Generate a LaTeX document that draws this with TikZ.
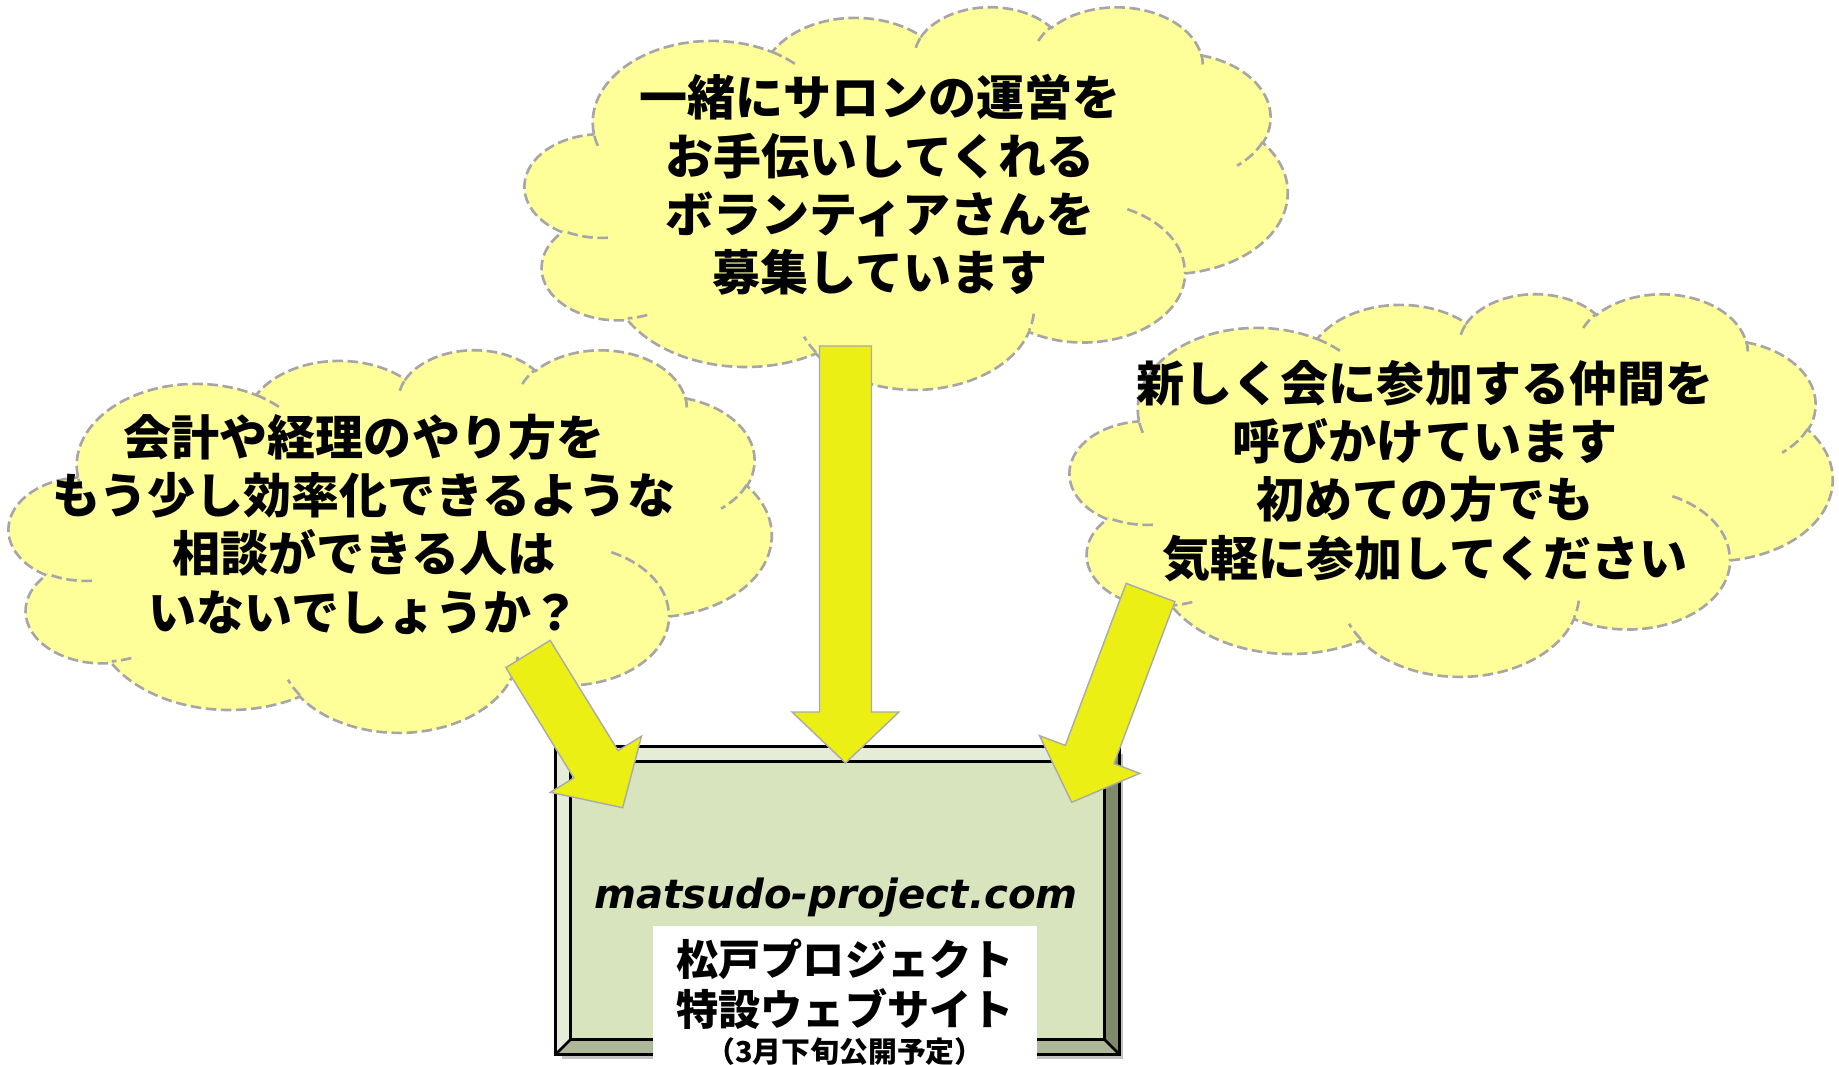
\documentclass[tikz,border=0pt]{standalone}
\usepackage{fontspec}
\setmainfont{Noto Sans CJK JP}
\newfontfamily\urlfont{DejaVu Sans}
\usepackage{tikz}
\usetikzlibrary{calc, positioning, shadows}
\usepackage{xcolor}
\definecolor{CloudYellow}{RGB}{255,255,153}
\definecolor{CloudGray}{RGB}{166,166,166}
\definecolor{ArrowYellow}{RGB}{235,239,20}
\definecolor{ArrowGray}{RGB}{170,170,170}
\definecolor{SiteFace}{RGB}{215,228,189}
\definecolor{SiteLite}{RGB}{229,237,216}
\definecolor{SiteDark}{RGB}{127,138,107}
\definecolor{SiteMid}{RGB}{173,184,152}
\tikzset{%
  cloud_body/.style={%
    fill=CloudYellow,%
    draw=CloudGray,%
    line width=0.75pt,%
    dash pattern=on 3pt off 1.3pt,%
  },
  cloud_line/.style={%
    draw=CloudGray,%
    line width=0.75pt,%
    dash pattern=on 3pt off 1.3pt,%
  },
  cloud_arc/.style n args={4}{%
    insert path={%
      arc[x radius=#1, y radius=#2,
        start angle={atan2(#1*sin(#3),#2*cos(#3))},
        delta angle={mod(atan2(#1*sin(#3+#4),#2*cos(#3+#4))-atan2(#1*sin(#3),#2*cos(#3))+720,360)}]%
    }%
  },
  cloud_text/.style={%
    font={\bfseries\fontsize{13.66pt}{16.59pt}\selectfont},%
    align=center,%
    inner sep=0pt,%
  },
  site_box/.style={%
    rectangle,%
    fill=SiteFace,%
    draw=black,%
    line width=0.75pt,%
    minimum width=5.61cm,%
    minimum height=3.05cm,%
    inner sep=0pt,%
    drop shadow={opacity=0.4, fill=black!60, shadow xshift=0.05cm, shadow yshift=-0.06cm},%
  },
  site_edge/.style={%
    draw=black,%
    line width=0.75pt,%
  },
  url_text/.style={%
    font={\urlfont\bfseries\itshape\fontsize{11.45pt}{13pt}\selectfont},%
  },
  site_panel/.style={%
    rectangle,%
    fill=white,%
    minimum width=3.84cm,%
    minimum height=1.516cm,%
    inner sep=0pt,%
    align=center,%
    font={\bfseries\fontsize{12pt}{14.34pt}\selectfont},%
  },
  block_arrow/.style={%
    fill=ArrowYellow,%
    draw=ArrowGray,%
    line width=0.4pt,%
  },
}

% cloud outline, placed by its top left corner
\newcommand\drawcloud[1]{%
  \begin{scope}[shift={(#1)}, x=0.017639cm, y=-0.0088426cm]
    \path[cloud_body] (39.00,143.70)
      [cloud_arc={67.53}{91.90}{-190.48748}{123.78053}]
      [cloud_arc={53.33}{72.67}{-144.10238}{89.94523}]
      [cloud_arc={43.65}{59.45}{-145.80792}{99.72302}]
      [cloud_arc={48.57}{65.95}{-130.98607}{117.24173}]
      [cloud_arc={53.33}{72.73}{-78.70888}{109.02692}]
      [cloud_arc={67.75}{92.20}{-46.26725}{130.269}]
      [cloud_arc={57.85}{78.67}{0.62502}{114.03333}]
      [cloud_arc={67.52}{92.15}{22.4516}{115.17255}]
      [cloud_arc={77.20}{105.43}{66.24263}{75.71102}]
      [cloud_arc={43.60}{59.18}{-274.94208}{146.73557}]
      [cloud_arc={43.45}{59.45}{-246.8285}{152.51885}]
      -- cycle;
    \path[cloud_line]
      (46.93,261.77) [cloud_arc={43.45}{59.45}{86.742}{26.4295}]
      (69.28,348.99) [cloud_arc={43.60}{59.18}{73.61047}{11.44747}]
      (164.78,390.90) [cloud_arc={67.52}{92.15}{137.62415}{14.0811}]
      (288.27,347.51) [cloud_arc={67.52}{92.15}{6.45327}{15.99835}]
      (341.29,229.54) [cloud_arc={57.85}{78.67}{-70.29235}{70.91737}]
      (417.98,153.54) [cloud_arc={53.33}{72.73}{30.31803}{27.7515}]
      (383.24,54.26) [cloud_arc={48.57}{65.95}{-13.74433}{14.8589}]
      (290.78,39.52) [cloud_arc={48.57}{65.95}{-149.18145}{18.19537}]
      (221.41,47.20) [cloud_arc={43.65}{59.45}{-163.49427}{17.68635}]
      (140.00,51.92) [cloud_arc={67.53}{91.90}{-66.70695}{12.31935}]
      (41.27,157.89) [cloud_arc={67.53}{91.90}{157.65435}{11.85817}];
  \end{scope}}

% fat arrow from tail to tip
\newcommand\blockarrow[2]{%
  \coordinate (head) at ($(#2)!0.51cm!(#1)$);
  \path[block_arrow]
    ($(#1)!0.26cm!90:(#2)$)
    -- ($(head)!0.26cm!90:(#2)$)
    -- ($(head)!0.535cm!90:(#2)$)
    -- (#2)
    -- ($(head)!0.535cm!-90:(#2)$)
    -- ($(head)!0.26cm!-90:(#2)$)
    -- ($(#1)!0.26cm!-90:(#2)$)
    -- cycle;}

\begin{document}
\begin{tikzpicture}[x=0.01cm, y=-0.01cm]
  \useasboundingbox (0,0) rectangle (1839,1065);

  \drawcloud{525,6}
  \drawcloud{9,349}
  \drawcloud{1070,293}

  \node [cloud_text] (volunteer) at (880,185) {%
    一緒にサロンの運営を\\お手伝いしてくれる\\ボランティアさんを\\募集しています%
  };
  \node [cloud_text] (accounting) at (364,524) {%
    会計や経理のやり方を\\もう少し効率化できるような\\相談ができる人は\\いないでしょうか？%
  };
  \node [cloud_text] (members) at (1425,471) {%
    新しく会に参加する仲間を\\呼びかけています\\初めての方でも\\気軽に参加してください%
  };

  % the web site board
  \node [site_box] (site) at (837.5,900.5) {};
  \fill [SiteLite]
    (site.north west) -- (site.north east)
    -- ($(site.north east)+(-15,15)$) -- ($(site.north west)+(15,15)$) -- cycle;
  \fill [SiteLite]
    (site.north west) -- ($(site.north west)+(15,15)$)
    -- ($(site.south west)+(15,-15)$) -- (site.south west) -- cycle;
  \fill [SiteDark]
    (site.north east) -- (site.south east)
    -- ($(site.south east)+(-15,-15)$) -- ($(site.north east)+(-15,15)$) -- cycle;
  \fill [SiteMid]
    (site.south west) -- (site.south east)
    -- ($(site.south east)+(-15,-15)$) -- ($(site.south west)+(15,-15)$) -- cycle;
  \path [site_edge] (site.north west) rectangle (site.south east);
  \path [site_edge]
    ($(site.north west)+(15,15)$) rectangle ($(site.south east)+(-15,-15)$);
  \path [site_edge]
    (site.north west) -- ($(site.north west)+(15,15)$)
    (site.north east) -- ($(site.north east)+(-15,15)$)
    (site.south west) -- ($(site.south west)+(15,-15)$)
    (site.south east) -- ($(site.south east)+(-15,-15)$);

  \node [url_text] (url) at (836,898) {matsudo-project.com};
  \node [site_panel] (panel) at (845,1002.3) {%
    松戸プロジェクト\\特設ウェブサイト\\[-3.9pt]%
    {\fontsize{8.2pt}{9pt}\selectfont （3月下旬公開予定）}%
  };

  % arrows into the board
  \coordinate (volunteer_tail) at (845.5,346);
  \coordinate (volunteer_tip) at (845.5,763);
  \coordinate (accounting_tail) at (528,654);
  \coordinate (accounting_tip) at (622.7,807.7);
  \coordinate (members_tail) at (1150.5,592.5);
  \coordinate (members_tip) at (1071.7,802.3);

  \blockarrow{volunteer_tail}{volunteer_tip}
  \blockarrow{accounting_tail}{accounting_tip}
  \blockarrow{members_tail}{members_tip}
\end{tikzpicture}
\end{document}
